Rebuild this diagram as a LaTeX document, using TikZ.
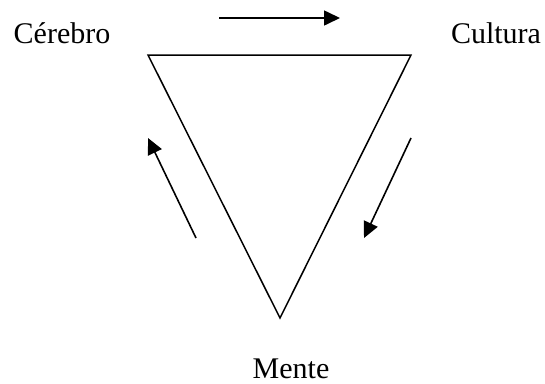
\documentclass[tikz,border=0pt]{standalone}
\usepackage{fontspec}
\setmainfont{Liberation Serif}
\usetikzlibrary{arrows.meta}
\begin{document}
\begin{tikzpicture}[x=1pt,y=-1pt,
  lbl/.style={inner sep=0pt,font=\fontsize{30}{34}\selectfont,anchor=base},
  edge/.style={line width=1.5pt},
  flow/.style={line width=1.6pt,-{Triangle[length=16pt,width=15pt]}}]
\useasboundingbox (0,0) rectangle (545,383);
\coordinate (L) at (148,55);
\coordinate (R) at (411,55);
\coordinate (B) at (280,318);
\draw[edge,line join=miter] (L) -- (R) -- (B) -- cycle;
\node[lbl] (ce) at (62,43) {Cérebro};
\node[lbl] (cu) at (496,43) {Cultura};
\node[lbl] (me) at (291,378) {Mente};
\coordinate (a1s) at (219,18);
\coordinate (a1e) at (340,18);
\coordinate (a2s) at (411,138);
\coordinate (a2e) at (364,238);
\coordinate (a3s) at (196,238);
\coordinate (a3e) at (148,138);
\draw[flow] (a1s) -- (a1e);
\draw[flow] (a2s) -- (a2e);
\draw[flow] (a3s) -- (a3e);
\end{tikzpicture}
\end{document}
